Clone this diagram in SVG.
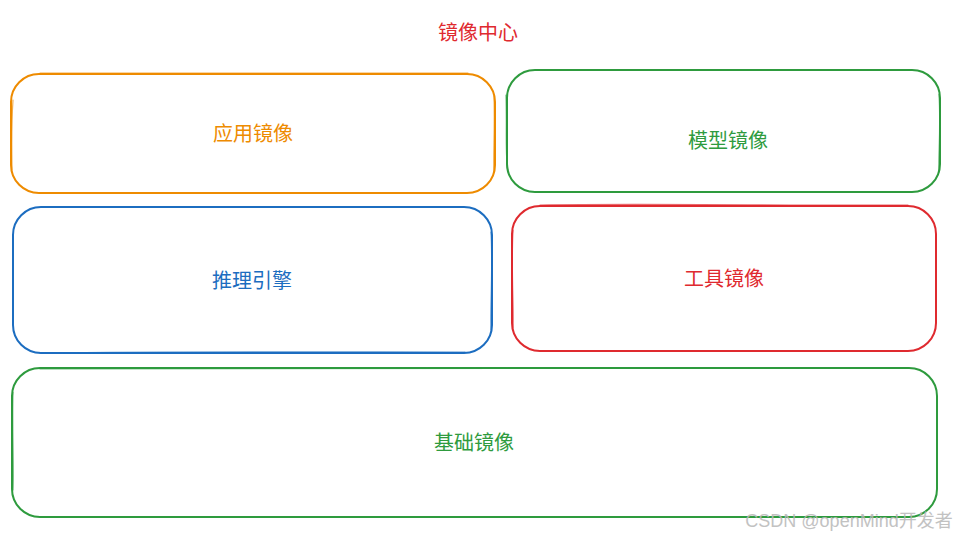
<svg xmlns="http://www.w3.org/2000/svg" width="957" height="539" viewBox="0 0 957 539">
<style>
.box{fill:none;stroke-width:2;stroke-linecap:round;stroke-linejoin:round}
.sk{fill:none;stroke-width:1.2;opacity:0.7;stroke-linecap:round}
.t{font-family:"Noto Sans CJK SC","Liberation Sans",sans-serif;font-size:20px;text-anchor:middle;dominant-baseline:central}
.orange{stroke:#EE8B00;fill:#EE8B00}
.green{stroke:#2E9B3E;fill:#2E9B3E}
.blue{stroke:#1C6DC0;fill:#1C6DC0}
.red{stroke:#DF2A2F;fill:#DF2A2F}
</style>
<rect width="957" height="539" fill="#ffffff"/>
<text id="title" class="t" x="478" y="31" fill="#DF2A2F" style="fill:#DF2A2F">镜像中心</text>
<g id="connectors"></g>
<g id="node-app">
<rect class="box orange" style="fill:none" x="11" y="74" width="484" height="119" rx="28"/>
<path class="sk orange" style="fill:none" d="M40 73 C200 72 350 74 468 73 M13 100 C11 130 12 160 12 170 M494 96 C495 130 493 160 494 172"/>
<text class="t orange" style="stroke:none" x="253" y="132">应用镜像</text>
</g>
<g id="node-model">
<rect class="box green" style="fill:none" x="507" y="70" width="433" height="122" rx="28"/>
<path class="sk green" style="fill:none" d="M506 95 C507 130 505 160 508 170 M939 94 C941 130 938 160 939 172"/>
<text class="t green" style="stroke:none" x="728" y="139">模型镜像</text>
</g>
<g id="node-infer">
<rect class="box blue" style="fill:none" x="13" y="207" width="479" height="146" rx="28"/>
<path class="sk blue" style="fill:none" d="M40 353 C200 351 350 352 465 352 M491 232 C493 270 490 310 491 330"/>
<text class="t blue" style="stroke:none" x="252" y="279">推理引擎</text>
</g>
<g id="node-tool">
<rect class="box red" style="fill:none" x="512" y="206" width="424" height="145" rx="28"/>
<path class="sk red" style="fill:none" d="M540 205 C650 203 800 206 908 205 M513 230 C511 270 514 310 513 328"/>
<text class="t red" style="stroke:none" x="724" y="277">工具镜像</text>
</g>
<g id="node-base">
<rect class="box green" style="fill:none" x="12" y="368" width="925" height="149" rx="28"/>
<path class="sk green" style="fill:none" d="M40 369 C300 367 600 370 908 368 M13 392 C12 430 14 470 13 490"/>
<text class="t green" style="stroke:none" x="474" y="441">基础镜像</text>
</g>
<text id="watermark" x="849" y="521" text-anchor="middle" dominant-baseline="central" style="font-family:'Liberation Sans','Noto Sans CJK SC',sans-serif;font-size:18px;fill:#b8b8b8;opacity:0.85">CSDN @openMind开发者</text>
</svg>
